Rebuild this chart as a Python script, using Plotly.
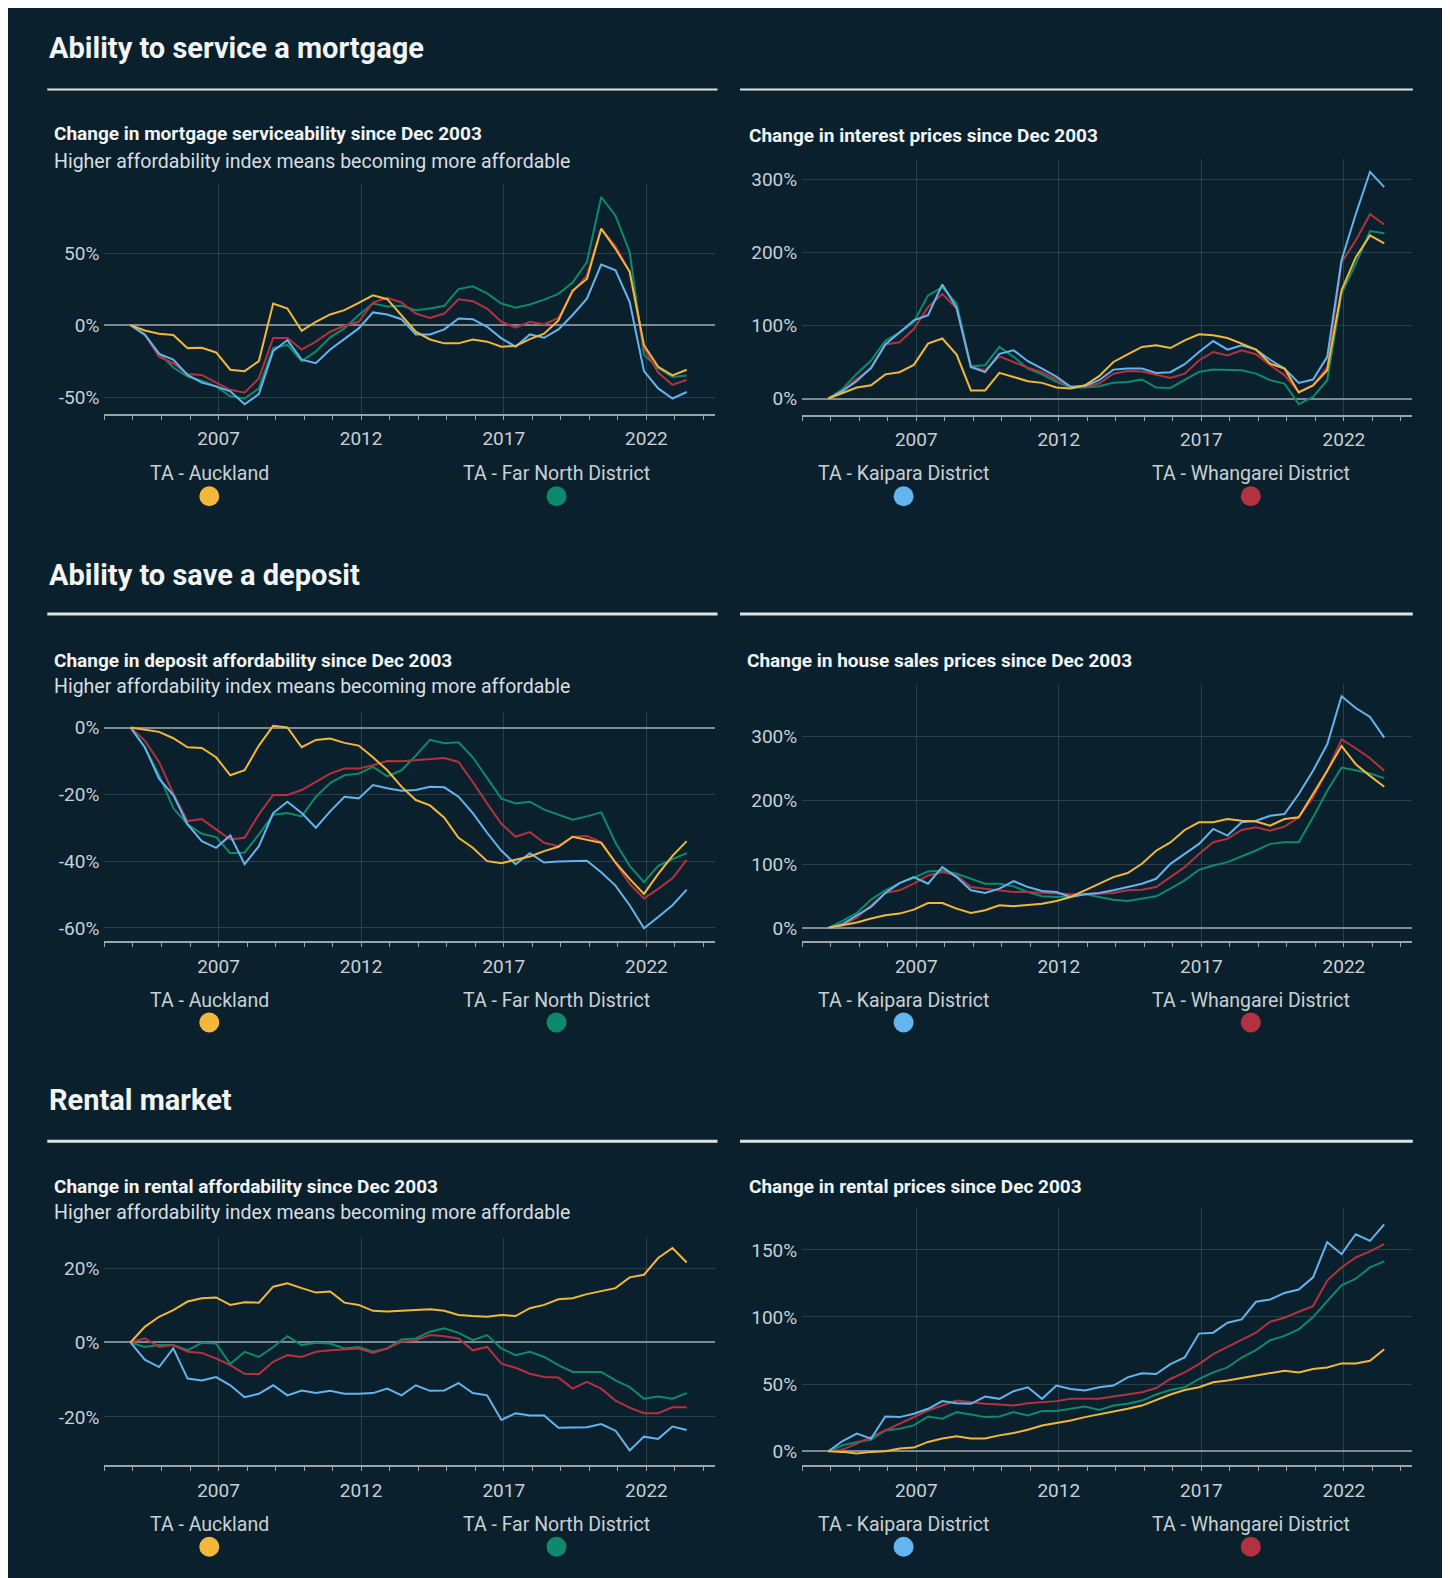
import plotly.graph_objects as go

# page is rendered with an 8px body margin; figure sized to fit the window
OFF = 8
W, H = 1442, 1570

# ---------------- data ----------------
DATES = ["2003-12-01", "2004-06-01", "2004-12-01", "2005-06-01", "2005-12-01", "2006-06-01",
         "2006-12-01", "2007-06-01", "2007-12-01", "2008-06-01", "2008-12-01", "2009-06-01",
         "2009-12-01", "2010-06-01", "2010-12-01", "2011-06-01", "2011-12-01", "2012-06-01",
         "2012-12-01", "2013-06-01", "2013-12-01", "2014-06-01", "2014-12-01", "2015-06-01",
         "2015-12-01", "2016-06-01", "2016-12-01", "2017-06-01", "2017-12-01", "2018-06-01",
         "2018-12-01", "2019-06-01", "2019-12-01", "2020-06-01", "2020-12-01", "2021-06-01",
         "2021-12-01", "2022-06-01", "2022-12-01", "2023-06-01"]

REGIONS = ["TA - Auckland", "TA - Far North District", "TA - Kaipara District", "TA - Whangarei District"]

# Change in mortgage serviceability (%)
MORT_AKL = [0, -3.7, -6, -6.9, -16, -15.7, -19, -31, -32, -25, 15, 11.5, -4, 2.3, 7.4, 10.4, 15.4, 20.7, 18, 7,
            -4.6, -10, -12.7, -12.7, -10, -11.5, -15, -14.5, -9.7, -6, 3.2, 24, 32, 67, 53, 37, -14, -29, -35, -31]
MORT_FN = [0, -7, -19.6, -29.5, -35.7, -38.7, -42.6, -49.5, -51, -44, -16, -13.8, -25, -18.4, -8.5, -2.3, 7, 15, 13, 13.4,
           10.4, 11.5, 13.4, 25, 27, 22, 15, 12, 14.3, 17.7, 21.7, 29.5, 43.8, 89, 76, 50.7, -20.7, -30, -36, -35]
MORT_KAI = [0, -6.5, -20, -24, -34.6, -40, -42.6, -46, -55, -48, -18, -10.4, -24, -26.5, -17, -9.7, -2.3, 8.8, 7.4, 4.1,
            -6.5, -6.5, -3, 4.6, 4.1, -1.2, -9.2, -15, -6.5, -8.8, -3, 7, 18.4, 42, 38, 16, -32, -44, -51, -46.5]
MORT_WHA = [0, -6.5, -22, -26.5, -34, -34.6, -40, -45, -47, -37, -9, -9, -17, -11.5, -4.6, -0.5, 2.3, 15.7, 19, 15.7,
            8, 5, 8, 18, 16.6, 11.5, 2.3, -1.8, 2.3, 0.5, 5, 23, 34.6, 67, 55, 37, -16, -33, -41.5, -38]

# Change in interest prices (%)
INT_AKL = [0, 7.7, 15, 18, 33, 36, 46, 75, 82, 60, 11, 11, 35, 29.5, 23.6, 21.4, 15, 13.6, 18, 30.5,
           50, 60.5, 70.5, 72.7, 69, 79.5, 87.7, 86.4, 82.7, 75, 66.8, 47.7, 41, 8.2, 18, 38.6, 148, 193, 223, 212]
INT_FN = [0, 13, 34, 52, 79, 90, 104.5, 141, 152, 130, 44, 45.5, 70.5, 57, 41, 33, 22.7, 15, 15, 16.8,
          21.4, 22.7, 26, 15, 14.5, 25, 36.4, 39.5, 38.6, 38.6, 34, 25, 20.5, -7.7, 2.3, 25, 143, 184, 229, 226]
INT_KAI = [0, 10.5, 24, 42, 74, 91, 107, 114, 156, 124, 43, 36, 61, 66, 51, 41, 30, 16, 17, 25,
           39.5, 41, 41, 35, 36, 47, 63.6, 78.6, 66.8, 72.7, 66.8, 53, 41, 21.4, 26, 57, 189, 252, 310, 289]
INT_WHA = [0, 10.5, 27, 41, 74, 77, 95, 125, 143, 123, 43, 38.6, 57.7, 50, 42, 36, 26, 16, 16, 20.5,
           34, 37.7, 37, 33, 28, 34, 52, 63.6, 59, 66, 60.5, 45.5, 32, 9, 18, 43, 186, 216, 252, 238]

# Change in deposit affordability (%)
DEP_AKL = [0, -0.6, -1.3, -3.2, -5.9, -6.1, -8.9, -14.3, -12.8, -5.4, 0.5, 0, -5.9, -3.7, -3.3, -4.6, -5.4, -8.9, -12.8, -17.7,
           -21.7, -23.3, -27, -33, -36, -40, -40.6, -39.6, -38.6, -37, -35.7, -32.7, -33.7, -34.5, -40.4, -45.3, -49.8, -43.8, -38.4, -34]
DEP_FN = [0, -5.9, -14.3, -24.1, -29, -31.8, -32.8, -37.6, -37.4, -32, -26.1, -25.6, -26.6, -20.7, -16.6, -14.3, -13.8, -11.8, -14.6, -12.8,
          -8.4, -3.7, -4.7, -4.4, -8.9, -15.3, -21.3, -22.7, -22.2, -24.6, -26.1, -27.6, -26.6, -25.4, -34.5, -41.4, -46.3, -41.4, -39.4, -37.6]
DEP_KAI = [0, -5.9, -15.3, -20.2, -29, -34, -36, -32.3, -40.9, -35.5, -25.6, -22.2, -25.6, -30, -25.1, -20.7, -21.2, -17.2, -18.2, -18.9,
           -18.7, -17.7, -17.9, -20.7, -25.6, -31.5, -36.9, -40.9, -37.6, -40.4, -40.1, -39.9, -39.9, -43.3, -47.3, -53.2, -60.1, -56.7, -53.2, -48.5]
DEP_WHA = [0, -3.9, -10.3, -19.7, -28, -27.4, -30.5, -33.5, -33, -26, -20.2, -20.2, -18.7, -16.3, -13.8, -12.3, -12.3, -11.3, -10, -10.1,
           -9.7, -9.4, -9.1, -10.3, -16.3, -22.7, -28.8, -32.7, -31.3, -34.5, -35.5, -32.7, -32.5, -34.3, -40.4, -46.8, -51.2, -48.3, -45.1, -39.6]

# Change in house sales prices (%)
HOUSE_AKL = [0, 4.2, 8.3, 14.6, 19.8, 22.4, 28.6, 39, 39, 30.2, 23.4, 27.6, 35.4, 33.9, 35.4, 38, 42.2, 48.4, 58.9, 69.3,
             79.7, 86, 100.5, 121, 134, 153.6, 165.6, 165.6, 170.8, 168, 167, 160.4, 170.8, 173.4, 209.9, 246.4, 285.4, 256.8, 238.5, 221.4]
HOUSE_FN = [0, 10.9, 23.4, 44.3, 58.9, 70.3, 78.6, 88.5, 90.1, 84.9, 77, 69.3, 69.3, 65.1, 56.3, 49.5, 48.4, 49.5, 52.6, 48.4,
            44.3, 42.2, 45.8, 49.5, 61.5, 74.5, 91.1, 97.9, 103.1, 112, 121.4, 131.8, 134.4, 134.4, 173.4, 215.1, 251.6, 247.4, 242.2, 234.9]
HOUSE_KAI = [0, 5.7, 19.8, 32.8, 54.7, 70.3, 79.7, 69.3, 95.3, 79.7, 58.9, 54.7, 61.5, 73.4, 64, 57.8, 56.3, 48.4, 52.6, 54.7,
             58.9, 64, 69.3, 77, 100.5, 116, 131.8, 155.2, 144.8, 165.6, 168.2, 176, 178.6, 210, 246.4, 288, 363.5, 345, 331, 298.4]
HOUSE_WHA = [0, 4.2, 16.1, 35.4, 54.7, 58.9, 69.3, 82.3, 87.5, 82.3, 64, 61.5, 58.9, 56.3, 56.3, 54.7, 53.6, 52.6, 52.6, 53.6,
             54.7, 58.9, 60, 64, 79.7, 95.3, 116, 134.4, 139.6, 153.6, 157.8, 152.6, 158.9, 173.4, 204.7, 246.4, 295.8, 281.8, 266.1, 246.4]

# Change in rental affordability (%)
RAFF_AKL = [0, 4.2, 6.9, 8.7, 11, 11.9, 12.1, 10.1, 10.8, 10.7, 15, 15.9, 14.6, 13.4, 13.7, 10.7, 10.1, 8.5, 8.3, 8.5,
            8.5, 8.9, 8.5, 7.4, 7.1, 6.9, 7.4, 7.1, 9.2, 10.1, 11.6, 11.9, 13, 13.9, 14.6, 17.5, 18.2, 22.7, 25.4, 21.5]
RAFF_FN = [0, -1.2, -0.7, -0.7, -2.1, -0.1, -0.3, -5.8, -2.5, -3.9, -1.2, 1.7, -0.7, -0.1, -0.3, -1.6, -1.2, -2.5, -1.6, 0.8,
           1.1, 2.9, 3.8, 2.6, 0.6, 2, -1.6, -3.4, -2.5, -3.9, -6.1, -7.9, -7.9, -7.9, -10.2, -12, -15.1, -14.5, -15.1, -13.6]
RAFF_KAI = [0, -4.6, -6.6, -1.6, -9.7, -10.2, -9.3, -11.5, -14.7, -13.8, -11.5, -14.2, -12.9, -13.6, -13, -13.8, -13.8, -13.6, -12.4, -14.2,
            -11.5, -13, -12.9, -10.9, -13.6, -14.2, -20.8, -19, -19.6, -19.6, -22.9, -22.8, -22.8, -21.9, -23.7, -29, -25.3, -25.9, -22.6, -23.5]
RAFF_WHA = [0, 1.1, -1.2, -0.7, -2.5, -2.8, -4.3, -6.1, -8.4, -8.5, -5.2, -3.4, -3.9, -2.5, -2.1, -1.9, -1.6, -2.8, -1.6, 0.2,
            0.6, 2, 1.7, 1.1, -2.1, -1.2, -5.7, -6.8, -8.4, -9.3, -9.4, -12.4, -10.6, -12.4, -15.6, -17.5, -19, -19, -17.4, -17.4]

# Change in rental prices (%)
RENT_AKL = [0, -0.5, -1.7, -0.5, 0, 2, 2.7, 6.9, 9.4, 11.1, 9.4, 9.4, 11.8, 13.6, 16, 19.2, 21, 22.9, 25.4, 27.4,
            29.1, 31.6, 34, 38.2, 42.2, 45.6, 47.6, 51.3, 52.6, 54.5, 56.3, 58, 60, 58.7, 61.2, 62.4, 65.4, 65.4, 67.4, 76]
RENT_FN = [0, 4.4, 6.9, 8.6, 15.5, 16.8, 19.2, 25.9, 24.2, 29.1, 27.4, 25.4, 25.9, 29.1, 26.6, 29.9, 29.9, 31.6, 33.3, 30.8,
           34, 35.3, 37.7, 42.2, 45.6, 47.6, 53.8, 58.7, 62.4, 69.8, 75.3, 82.7, 85.9, 90.8, 99.9, 111.8, 123.6, 128.5, 136.9, 141.4]
RENT_KAI = [0, 7.6, 13.1, 9.4, 25.9, 25.4, 27.9, 31.6, 37.3, 35.8, 35.3, 40.7, 39, 44.7, 47.6, 39, 48.9, 46.4, 45.2, 47.6,
            48.9, 55, 58, 57.5, 64.9, 69.8, 87.6, 88.3, 95.7, 98.2, 111.3, 113, 117.9, 120.4, 129.5, 155.7, 146.8, 161.6, 156.7, 169]
RENT_WHA = [0, 1.2, 5.7, 10.6, 16, 20.5, 25.4, 30.3, 34, 37.7, 36.5, 35.3, 34.8, 34, 35.8, 36.5, 37.3, 39, 39, 39,
            40.7, 42.2, 43.9, 47.1, 53.8, 58.7, 64.9, 72.3, 77.7, 83.4, 88.3, 96.5, 99.4, 103.9, 108.1, 127.1, 136.9, 144.3, 148.8, 154.2]

X_TICKS = ["2007-01-01", "2012-01-01", "2017-01-01", "2022-01-01"]
X_TICK_TEXT = ["2007", "2012", "2017", "2022"]

Y_TICKS_MORT = [-50, 0, 50]
Y_TEXT_MORT = ["-50%", "0%", "50%"]
Y_TICKS_INT = [0, 100, 200, 300]
Y_TEXT_INT = ["0%", "100%", "200%", "300%"]
Y_TICKS_DEP = [-60, -40, -20, 0]
Y_TEXT_DEP = ["-60%", "-40%", "-20%", "0%"]
Y_TICKS_HOUSE = [0, 100, 200, 300]
Y_TEXT_HOUSE = ["0%", "100%", "200%", "300%"]
Y_TICKS_RAFF = [-20, 0, 20]
Y_TEXT_RAFF = ["-20%", "0%", "20%"]
Y_TICKS_RENT = [0, 50, 100, 150]
Y_TEXT_RENT = ["0%", "50%", "100%", "150%"]

SECTION_TITLES = ["Ability to service a mortgage", "Ability to save a deposit", "Rental market"]
CHART_TITLES = ["Change in mortgage serviceability since Dec 2003", "Change in interest prices since Dec 2003",
                "Change in deposit affordability since Dec 2003", "Change in house sales prices since Dec 2003",
                "Change in rental affordability since Dec 2003", "Change in rental prices since Dec 2003"]
SUBTITLE = "Higher affordability index means becoming more affordable"

# ---------------- style ----------------
BG = "#0a212d"
COLORS = {"AKL": "#f3b73c", "FN": "#0d8a6b", "KAI": "#63b4ef", "WHA": "#b2323f"}
GRID = "#2a404c"
ZERO = "#7d8a91"
AXIS = "#9aa4a9"
TICKC = "#c9d0d4"
WHITE = "#f2f4f5"
FONT = "Roboto, 'Open Sans', sans-serif"


def px(x):
    """page x pixel -> paper fraction"""
    return (x - OFF) / W


def py(y):
    """page y pixel -> paper fraction"""
    return 1 - (y - OFF) / H


LEFT_X = (104.4, 714.9)
RIGHT_X = (802.2, 1412.4)
panels = [
    (dict(FN=MORT_FN, WHA=MORT_WHA, KAI=MORT_KAI, AKL=MORT_AKL), Y_TICKS_MORT, Y_TEXT_MORT, [-61.5, 97.9], LEFT_X, (184.2, 413.6)),
    (dict(FN=INT_FN, WHA=INT_WHA, KAI=INT_KAI, AKL=INT_AKL), Y_TICKS_INT, Y_TEXT_INT, [-22, 327.5], RIGHT_X, (159, 414.6)),
    (dict(FN=DEP_FN, WHA=DEP_WHA, KAI=DEP_KAI, AKL=DEP_AKL), Y_TICKS_DEP, Y_TEXT_DEP, [-63.9, 4.8], LEFT_X, (711.5, 941)),
    (dict(FN=HOUSE_FN, WHA=HOUSE_WHA, KAI=HOUSE_KAI, AKL=HOUSE_AKL), Y_TICKS_HOUSE, Y_TEXT_HOUSE, [-20.6, 382], RIGHT_X, (684.4, 941)),
    (dict(FN=RAFF_FN, WHA=RAFF_WHA, KAI=RAFF_KAI, AKL=RAFF_AKL), Y_TICKS_RAFF, Y_TEXT_RAFF, [-33, 28.1], LEFT_X, (1237.9, 1465.3)),
    (dict(FN=RENT_FN, WHA=RENT_WHA, KAI=RENT_KAI, AKL=RENT_AKL), Y_TICKS_RENT, Y_TEXT_RENT, [-10.5, 181.4], RIGHT_X, (1207.7, 1465.3)),
]

fig = go.Figure()
layout = dict(
    width=W, height=H, autosize=False,
    margin=dict(l=0, r=0, t=0, b=0),
    paper_bgcolor="white", plot_bgcolor="rgba(0,0,0,0)",
    showlegend=False,
    font=dict(family=FONT, color=TICKC, size=19),
)

for i, (series, yticks, ytext, yrange, xd, yd) in enumerate(panels):
    n = "" if i == 0 else str(i + 1)
    for key, vals in series.items():
        fig.add_trace(go.Scatter(
            x=DATES, y=vals, mode="lines", name=key,
            line=dict(color=COLORS[key], width=2),
            xaxis="x" + n, yaxis="y" + n, hoverinfo="skip",
        ))
    layout["xaxis" + n] = dict(
        domain=[px(xd[0]), px(xd[1])], anchor="y" + n, type="date",
        range=["2003-01-01", "2024-05-27"],
        tickvals=X_TICKS, ticktext=X_TICK_TEXT,
        showgrid=True, gridcolor=GRID, gridwidth=1,
        showline=True, linecolor=AXIS, linewidth=2,
        ticks="outside", ticklen=4, tickcolor=AXIS, tickwidth=1,
        minor=dict(ticks="outside", ticklen=4, tickcolor=AXIS, dtick="M12", tick0="2003-01-01", showgrid=False),
        tickfont=dict(size=19, color=TICKC), ticklabelstandoff=3,
        zeroline=False, fixedrange=True,
    )
    layout["yaxis" + n] = dict(
        domain=[py(yd[1]), py(yd[0])], anchor="x" + n,
        range=yrange, tickvals=yticks, ticktext=ytext,
        showgrid=True, gridcolor=GRID, gridwidth=1,
        zeroline=True, zerolinecolor=ZERO, zerolinewidth=2,
        showline=False, ticks="", tickfont=dict(size=19, color=TICKC),
        ticklabelstandoff=4, fixedrange=True,
    )

shapes = [dict(type="rect", xref="paper", yref="paper", x0=0, x1=px(1444), y0=0, y1=1,
               fillcolor=BG, line=dict(width=0), layer="below")]

# section rules
for y, w in [(89.6, 2), (613.9, 3), (1141.3, 3)]:
    shapes.append(dict(type="line", xref="paper", yref="paper", x0=px(47.3), x1=px(717.5), y0=py(y), y1=py(y),
                       line=dict(color="#dfe3e5", width=w)))
    shapes.append(dict(type="line", xref="paper", yref="paper", x0=px(740), x1=px(1412.8), y0=py(y), y1=py(y),
                       line=dict(color="#dfe3e5", width=w)))

annotations = []
for t, y in zip(SECTION_TITLES, [48.3, 574.7, 1100]):
    annotations.append(dict(text="<b>" + t + "</b>", x=px(47.3), y=py(y), xref="paper", yref="paper",
                            xanchor="left", yanchor="middle", showarrow=False,
                            font=dict(size=29, color=WHITE, family=FONT)))
title_pos = [(52.3, 133.9), (746.6, 135.9), (52.3, 660.2), (744.6, 660.2), (52.3, 1186.5), (746.6, 1186.5)]
for t, (x, y) in zip(CHART_TITLES, title_pos):
    annotations.append(dict(text="<b>" + t + "</b>", x=px(x), y=py(y), xref="paper", yref="paper",
                            xanchor="left", yanchor="middle", showarrow=False,
                            font=dict(size=19, color=WHITE, family=FONT)))
for y in [162, 686.4, 1212.7]:
    annotations.append(dict(text=SUBTITLE, x=px(52.3), y=py(y), xref="paper", yref="paper",
                            xanchor="left", yanchor="middle", showarrow=False,
                            font=dict(size=19.5, color="#d8dde0", family=FONT)))

leg_x = [209.3, 556.5, 903.6, 1250.8]
leg_keys = ["AKL", "FN", "KAI", "WHA"]
for ty, dy in [(474, 496.2), (1000.4, 1022.5), (1524.7, 1546.8)]:
    for name, key, x in zip(REGIONS, leg_keys, leg_x):
        annotations.append(dict(text=name, x=px(x), y=py(ty), xref="paper", yref="paper",
                                xanchor="center", yanchor="middle", showarrow=False,
                                font=dict(size=19.5, color=TICKC, family=FONT)))
        shapes.append(dict(type="circle", xref="paper", yref="paper",
                           x0=px(x - 10), x1=px(x + 10), y0=py(dy + 10), y1=py(dy - 10),
                           fillcolor=COLORS[key], line=dict(width=0)))

layout["shapes"] = shapes
layout["annotations"] = annotations
fig.update_layout(**layout)
fig.write_html("out.html")
